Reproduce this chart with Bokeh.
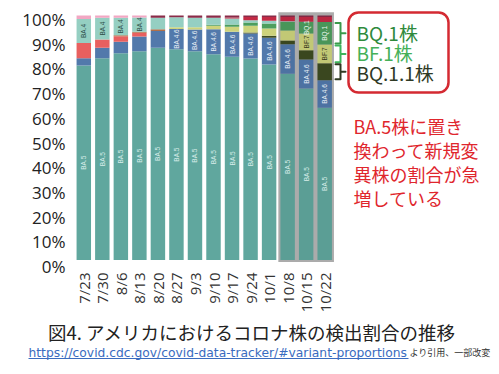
import numpy as np
from math import pi
from bokeh.plotting import figure
from bokeh.models import (ColumnDataSource, Range1d, LinearAxis, FixedTicker,
                          PrintfTickFormatter)
from bokeh.embed import file_html
from bokeh.resources import INLINE
from bokeh.core.properties import value

# ---------------- data ----------------
weeks = ["7/23", "7/30", "8/6", "8/13", "8/20", "8/27", "9/3", "9/10",
         "9/17", "9/24", "10/1", "10/8", "10/15", "10/22"]
ba5    = [79.5, 82.5, 84.6, 85.4, 86.8, 86.2, 85.4, 84.1, 83.1, 82.4, 80.0, 76.2, 70.1, 62.3]
ba46   = [3.0, 4.3, 4.7, 6.0, 6.9, 8.3, 8.9, 10.3, 10.2, 10.2, 10.9, 12.0, 11.9, 11.2]
bq11   = [0, 0, 0, 0, 0, 0, 0, 0, 0, 0.4, 0.8, 1.6, 3.8, 7.0]
bf7    = [0, 0, 0, 0, 0, 0.7, 0.9, 1.4, 2.1, 2.8, 3.0, 4.1, 6.8, 7.6]
bq1    = [0, 0, 0, 0, 0, 0, 0, 0.4, 0.9, 1.3, 2.0, 3.4, 4.8, 9.2]
ba2121 = [6.2, 3.4, 2.2, 1.5, 0, 0, 0, 0, 0, 0, 0, 0, 0, 0]
ba275  = [0, 0, 0.4, 0.5, 0.7, 0, 0, 0, 0, 0, 0, 0, 0, 0]
ba4    = [9.9, 8.9, 7.2, 5.8, 4.7, 4.1, 3.9, 2.9, 2.5, 1.0, 1.1, 0.3, 0, 0]
ba2    = [1.4, 0.9, 0.9, 0.8, 0, 0, 0, 0, 0, 0, 0, 0, 0, 0]
bn1    = [0, 0, 0, 0, 0, 0, 0, 0, 0.4, 1.3, 1.6, 1.8, 2.0, 2.1]
other  = [0, 0, 0, 0, 0.9, 0.7, 0.9, 0.9, 0.8, 0.6, 0.6, 0.6, 0.6, 0.6]

series_names = ["BA.5", "BA.4.6", "BQ.1.1", "BF.7", "BQ.1", "BA.2.12.1",
                "BA.2.75", "BA.4", "BA.2", "BN.1", "Other"]
series_vals = [ba5, ba46, bq11, bf7, bq1, ba2121, ba275, ba4, ba2, bn1, other]
series_colors = ["#60a79e", "#5279ab", "#3e4b21", "#cdd37c", "#4d9e5e", "#e8605f",
                 "#b0704a", "#95cfc2", "#f2a7c3", "#c32a45", "#8a2b48"]

# which bars carry an in-bar label
label_bars = {
    "BA.5":   list(range(14)),
    "BA.4":   [0, 1, 2, 3],
    "BA.4.6": list(range(5, 14)),
    "BF.7":   [12, 13],
    "BQ.1":   [12, 13],
}
label_colors = {"BA.5": "#d9eeea", "BA.4": "#2d4f4a", "BA.4.6": "#e8eef6",
                "BF.7": "#3a3a20", "BQ.1": "#e8f4ea"}

highlight = [11, 13]          # first/last highlighted week index
pct_ticks = list(range(0, 101, 10))

box_texts = ["BQ.1株", "BF.1株", "BQ.1.1株"]
box_text_colors = ["#2f8a3c", "#45b058", "#2f3a25"]
brace_colors = ["#3a9a4a", "#3cb55a", "#2f3a22"]
note_lines = ["BA.5株に置き", "換わって新規変", "異株の割合が急", "増している"]
title_text = "図4. アメリカにおけるコロナ株の検出割合の推移"
link_text = "https://covid.cdc.gov/covid-data-tracker/#variant-proportions"
src_text = "より引用、一部改変"

# ---------------- figure (frame = whole canvas) ----------------
p = figure(width=499, height=374,
           x_range=Range1d(-4.495, 22.434), y_range=Range1d(-46.83, 106.13),
           output_backend="svg", toolbar_location=None,
           x_axis_location=None, y_axis_location=None, min_border=0)
p.outline_line_color = None
p.grid.visible = False
p.background_fill_color = "white"
p.extra_y_ranges = {"lab": Range1d(-43.72, 107.69), "py": Range1d(374, 0)}
p.extra_x_ranges = {"px": Range1d(0, 499)}

yaxis = LinearAxis(y_range_name="lab", ticker=FixedTicker(ticks=pct_ticks),
                   formatter=PrintfTickFormatter(format="%d%%"), fixed_location=-0.718)
yaxis.axis_line_color = None
yaxis.major_tick_line_color = None
yaxis.minor_tick_line_color = None
yaxis.major_tick_out = 0
yaxis.major_tick_in = 0
yaxis.major_label_standoff = 5
yaxis.major_label_text_font = "Open Sans"
yaxis.major_label_text_font_size = "17px"
yaxis.major_label_text_color = "#222222"
p.add_layout(yaxis, "left")

xaxis = LinearAxis(ticker=FixedTicker(ticks=list(range(len(weeks)))),
                   major_label_overrides={i: w for i, w in enumerate(weeks)},
                   fixed_location=-4.29)
xaxis.major_label_orientation = pi / 2
xaxis.axis_line_color = None
xaxis.major_tick_line_color = None
xaxis.minor_tick_line_color = None
xaxis.major_tick_out = 0
xaxis.major_tick_in = 0
xaxis.major_label_standoff = 2
xaxis.major_label_text_font = "Open Sans"
xaxis.major_label_text_font_size = "15px"
xaxis.major_label_text_color = "#333333"
p.add_layout(xaxis, "below")

x = np.arange(len(weeks))

# highlight background
p.quad(left=[highlight[0] - 0.5], right=[highlight[1] + 0.5], bottom=[-0.8], top=[101.3],
       fill_color="#b5b5b5", line_color=None)

data = {"x": x}
for n, v in zip(series_names, series_vals):
    data[n] = v
src = ColumnDataSource(data)
p.vbar_stack(series_names, x="x", width=0.78, color=series_colors, line_color=None, source=src)

# slight darkening of highlighted bars
p.quad(left=[highlight[0] - 0.5], right=[highlight[1] + 0.5], bottom=[-0.8], top=[101.3],
       fill_color="black", fill_alpha=0.05, line_color=None)

# in-bar labels
vals = np.array(series_vals, dtype=float)
cum = np.cumsum(vals, axis=0)
base = cum - vals
lx, ly, lt, lc = [], [], [], []
for name, bars in label_bars.items():
    k = series_names.index(name)
    for b in bars:
        lx.append(b)
        ly.append(base[k, b] + vals[k, b] / 2)
        lt.append(name)
        lc.append(label_colors[name])
p.text(x="x", y="y", text="t", text_color="c",
       source=ColumnDataSource(dict(x=lx, y=ly, t=lt, c=lc)),
       angle=pi / 2, text_align="center", text_baseline="middle",
       text_font=value("Liberation Sans"), text_font_size="6.5px")

# braces for the last week's new variants
last = len(weeks) - 1
brace_series = ["BQ.1", "BF.7", "BQ.1.1"]
bxs, bys = [], []
for name in brace_series:
    k = series_names.index(name)
    lo = base[k, last] + 0.4
    hi = cum[k, last] - 0.4
    mid = (lo + hi) / 2
    bxs.append([335, 340, 340, 345, 340, 340, 335])
    bys.append([hi, hi, mid, mid, mid, lo, lo])
p.multi_line(xs=bxs, ys=bys, line_color=brace_colors, line_width=2,
             line_join="round", line_cap="round", x_range_name="px")

# red rounded box
p.quad(left=[348], right=[448], top=[12], bottom=[92], border_radius=10,
       x_range_name="px", y_range_name="py",
       fill_color=None, line_color="#d42a32", line_width=2.5)

p.text(x=[356] * 3, y=[32, 52, 72], text=box_texts, text_color=box_text_colors,
       x_range_name="px", y_range_name="py", text_baseline="middle", text_align="left",
       text_font=value("Noto Sans CJK JP"), text_font_size="19px")

p.text(x=[353] * 4, y=[125, 149, 173, 197], text=note_lines, text_color="#e0262d",
       x_range_name="px", y_range_name="py", text_baseline="middle", text_align="left",
       text_font=value("Noto Sans CJK JP"), text_font_size="18px")

# caption
p.text(x=[251.5], y=[331], text=[title_text], text_align="center", text_baseline="middle",
       x_range_name="px", y_range_name="py",
       text_font=value("Noto Sans CJK JP"), text_font_size="18.5px", text_color="#222222")
p.text(x=[28], y=[352], text=[link_text], text_align="left", text_baseline="middle",
       x_range_name="px", y_range_name="py",
       text_font=value("DejaVu Sans"), text_font_size="12.3px", text_color="#3a6cc0")
p.segment(x0=[28], x1=[408], y0=[358], y1=[358], line_color="#3a6cc0", line_width=1,
          x_range_name="px", y_range_name="py")
p.text(x=[409], y=[352], text=[src_text], text_align="left", text_baseline="middle",
       x_range_name="px", y_range_name="py",
       text_font=value("Noto Sans CJK JP"), text_font_size="9px", text_color="#333333")

open("out.html", "w").write(file_html(p, INLINE))
